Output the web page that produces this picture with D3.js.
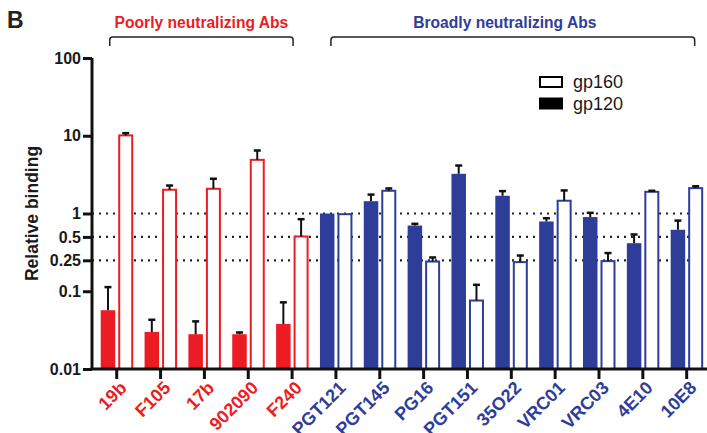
<!DOCTYPE html>
<html>
<head>
<meta charset="utf-8">
<script src="https://cdn.jsdelivr.net/npm/d3@7"></script>
<style>
  body { margin: 0; background: #fff; }
  text { font-family: "Liberation Sans", Arial, sans-serif; }
</style>
</head>
<body>
<div id="chart"></div>
<script>
var antibodies = ["19b", "F105", "17b", "902090", "F240", "PGT121", "PGT145", "PG16", "PGT151", "35O22", "VRC01", "VRC03", "4E10", "10E8"]
var groups = ["poor", "poor", "poor", "poor", "poor", "broad", "broad", "broad", "broad", "broad", "broad", "broad", "broad", "broad"]
var gp120 = [0.057, 0.030, 0.028, 0.028, 0.038, 1.0, 1.44, 0.70, 3.24, 1.69, 0.79, 0.90, 0.415, 0.617]
var gp120Err = [0.113, 0.043, 0.041, 0.0295, 0.072, 1.0, 1.75, 0.737, 4.14, 1.94, 0.87, 1.02, 0.537, 0.81]
var gp160 = [10.1, 2.02, 2.08, 4.9, 0.506, 0.98, 1.96, 0.241, 0.076, 0.237, 1.46, 0.244, 1.90, 2.12]
var gp160Err = [10.8, 2.29, 2.8, 6.46, 0.845, 0.98, 2.1, 0.272, 0.121, 0.288, 1.98, 0.31, 1.96, 2.24]
var yTicks = [0.01, 0.1, 0.25, 0.5, 1, 10, 100]
var refLines = [1, 0.5, 0.25]
var brackets = [
    {label: "Poorly neutralizing Abs", from: "19b", to: "F240", group: "poor", shift: 0},
    {label: "Broadly neutralizing Abs", from: "PGT121", to: "10E8", group: "broad", shift: -8}
]
var legendItems = [{label: "gp160", filled: false}, {label: "gp120", filled: true}]

var colors = {poor: "#ec1c24", broad: "#2e3d98"}
var W = 707, H = 433
var axisX = 92
var barW = 14.5

var svg = d3.select("#chart").append("svg")
    .attr("width", W).attr("height", H)

var x = d3.scaleBand().domain(antibodies).range([94.8, 708.6]).padding(0)
var y = d3.scaleLog().domain([0.01, 100]).range([369, 58])
var cx = function(d) { return x(d) + x.bandwidth() / 2 }

// panel letter
svg.append("text").attr("x", 7).attr("y", 28)
    .attr("font-size", 23).attr("font-weight", "bold").attr("fill", "#222").text("B")

// dotted reference lines
svg.selectAll(".ref").data(refLines).enter().append("line")
    .attr("x1", axisX).attr("x2", W)
    .attr("y1", d => y(d)).attr("y2", d => y(d))
    .attr("stroke", "#222").attr("stroke-width", 2.2)
    .attr("stroke-dasharray", "2,5")

// bars
var rows = antibodies.map(function(name, i) {
    return {name: name, group: groups[i], g120: gp120[i], e120: gp120Err[i], g160: gp160[i], e160: gp160Err[i]}
})

var bars = svg.append("g")
rows.forEach(function(r) {
    var c = colors[r.group]
    // filled gp120
    bars.append("rect")
        .attr("x", cx(r.name) - 16).attr("width", barW)
        .attr("y", y(r.g120)).attr("height", y(0.01) - y(r.g120))
        .attr("fill", c)
    // open gp160
    bars.append("rect")
        .attr("x", cx(r.name) + 2.5).attr("width", barW - 1.5)
        .attr("y", y(r.g160)).attr("height", y(0.01) - y(r.g160))
        .attr("fill", "#fff").attr("stroke", c).attr("stroke-width", 2)
    // error bars
    var errs = [[cx(r.name) - 16 + barW / 2, r.g120, r.e120], [cx(r.name) + 2.5 + (barW - 1.5) / 2, r.g160, r.e160]]
    errs.forEach(function(e) {
        if (e[2] <= e[1]) return
        bars.append("line")
            .attr("x1", e[0]).attr("x2", e[0])
            .attr("y1", y(e[1])).attr("y2", y(e[2]))
            .attr("stroke", "#111").attr("stroke-width", 2)
        bars.append("line")
            .attr("x1", e[0] - 3.5).attr("x2", e[0] + 3.5)
            .attr("y1", y(e[2])).attr("y2", y(e[2]))
            .attr("stroke", "#111").attr("stroke-width", 2.5)
    })
})

// y axis
var yAxis = svg.append("g")
    .attr("transform", "translate(" + axisX + ",0)")
    .call(d3.axisLeft(y).tickValues(yTicks).tickSize(9).tickFormat(d => String(d)))
yAxis.select(".domain").attr("stroke", "#111").attr("stroke-width", 3)
    .attr("d", "M0," + y(100) + "V" + y(0.01))
yAxis.selectAll(".tick line").attr("stroke", "#111").attr("stroke-width", 3)
yAxis.selectAll(".tick text")
    .attr("font-size", 16).attr("font-weight", "bold").attr("fill", "#1a1a1a")
    .attr("font-family", "Liberation Sans, Arial, sans-serif").attr("x", -11)

// x axis
var xAxis = svg.append("g")
    .attr("transform", "translate(0," + y(0.01) + ")")
    .call(d3.axisBottom(x).tickSize(10).tickSizeOuter(0))
xAxis.select(".domain").attr("stroke", "#111").attr("stroke-width", 3)
    .attr("d", "M" + (axisX - 1.5) + ",0H" + W)
xAxis.selectAll(".tick line").attr("stroke", "#111").attr("stroke-width", 3)
xAxis.selectAll(".tick text")
    .attr("font-size", 18).attr("font-weight", "bold")
    .attr("font-family", "Liberation Sans, Arial, sans-serif")
    .attr("fill", (d, i) => colors[groups[i]])
    .attr("text-anchor", "end")
    .attr("dy", null).attr("y", null)
    .attr("transform", "translate(11,20) rotate(-45)")

// y title
svg.append("text")
    .attr("transform", "translate(38," + y(1) + ") rotate(-90)")
    .attr("text-anchor", "middle")
    .attr("font-size", 17.5).attr("font-weight", "bold").attr("fill", "#1a1a1a")
    .text("Relative binding")

// brackets
brackets.forEach(function(b) {
    var x0 = cx(b.from) - 7, x1 = cx(b.to) + 1
    if (b.group == "broad") { x0 = cx(b.from) - 5; x1 = cx(b.to) + 8 }
    var top = 37, bot = 46, r = 3
    svg.append("path")
        .attr("d", "M" + x0 + "," + bot + "V" + (top + r) + "Q" + x0 + "," + top + " " + (x0 + r) + "," + top +
            "H" + (x1 - r) + "Q" + x1 + "," + top + " " + x1 + "," + (top + r) + "V" + bot)
        .attr("fill", "none").attr("stroke", "#222").attr("stroke-width", 1.5)
    svg.append("text")
        .attr("x", (x0 + x1) / 2 + b.shift).attr("y", 28)
        .attr("text-anchor", "middle")
        .attr("font-size", 15.6).attr("font-weight", "bold")
        .attr("fill", colors[b.group])
        .text(b.label)
})

// legend
var legend = svg.append("g").attr("transform", "translate(540,77)")
legendItems.forEach(function(d, i) {
    legend.append("rect")
        .attr("x", 0).attr("y", i * 21.5)
        .attr("width", 22).attr("height", 10)
        .attr("fill", d.filled ? "#000" : "#fff")
        .attr("stroke", "#000").attr("stroke-width", 2)
    legend.append("text")
        .attr("x", 33).attr("y", i * 21.5 + 11)
        .attr("font-size", 18).attr("fill", "#1a1a1a")
        .text(d.label)
})
</script>
</body>
</html>
